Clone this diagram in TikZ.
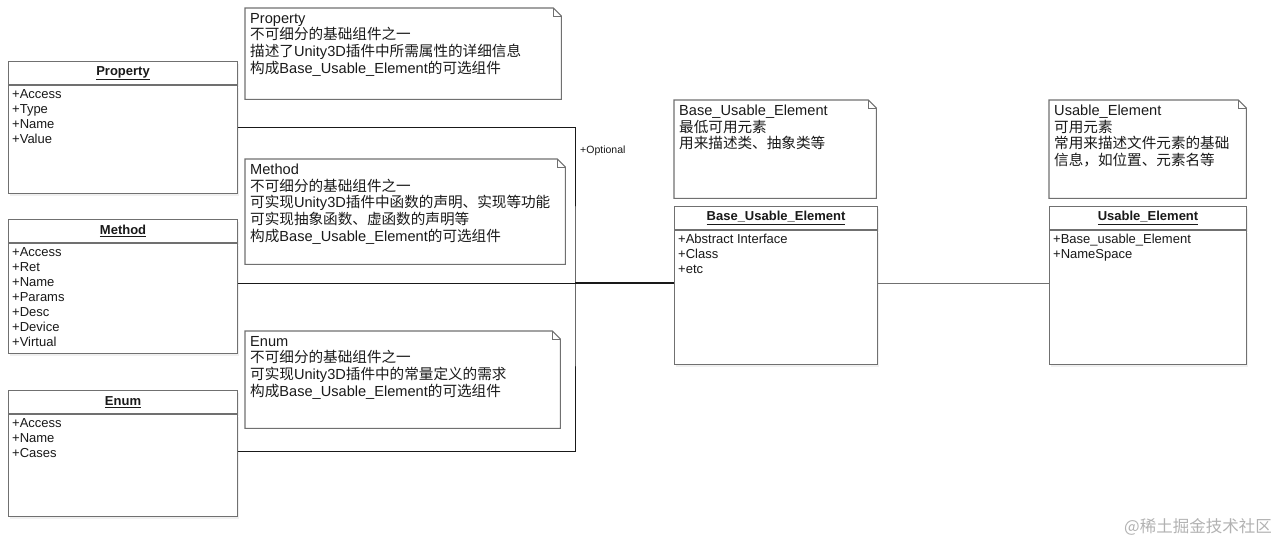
\documentclass[tikz,border=0pt]{standalone}
\usepackage{fontspec}
\setmainfont{Liberation Sans}
\newfontfamily\cjk{Noto Sans CJK SC}[Scale=1.0]
\usetikzlibrary{positioning,shadows,calc}
\definecolor{frame}{RGB}{112,112,112}
\definecolor{ink}{RGB}{25,25,25}
\definecolor{mark}{RGB}{178,178,178}
\newcommand{\zh}[1]{{\cjk #1}}

\tikzset{
  clshead/.style={draw=frame,line width=1.1pt,fill=white,minimum height=23pt,inner sep=0pt,
    anchor=north west,font=\fontsize{13}{15}\selectfont\bfseries,text=ink,
    drop shadow={shadow xshift=1.5pt,shadow yshift=-2.5pt,opacity=0.12}},
  clsbody/.style={draw=frame,line width=1.1pt,fill=white,inner sep=0pt,anchor=north west,
    drop shadow={shadow xshift=1.5pt,shadow yshift=-2.5pt,opacity=0.12}},
  members/.style={inner sep=4pt,anchor=north west,align=left,font=\fontsize{13}{15}\selectfont,text=ink},
  notebox/.style={inner sep=0pt,anchor=north west},
  notebord/.style={draw=frame,line width=1.1pt},
  notetext/.style={inner sep=5pt,anchor=north west,align=left,font=\fontsize{14.6}{16.6}\selectfont,text=ink},
  conn/.style={draw=ink,line width=0.9pt}
}

\begin{document}
\begin{tikzpicture}[x=1pt,y=-1pt]
    \useasboundingbox (0,0) rectangle (1280,547);
    % class boxes: name/x/y/width/body height/title/members
    \foreach \n/\x/\y/\w/\h/\t/\m in {
      prop/8/61/229/108/Property/{+Access\\+Type\\+Name\\+Value},
      meth/8/219/229/110/Method/{+Access\\+Ret\\+Name\\+Params\\+Desc\\+Device\\+Virtual},
      enum/8/390/229/102/Enum/{+Access\\+Name\\+Cases},
      base/674/206/203/134/Base\_Usable\_Element/{+Abstract Interface\\+Class\\+etc},
      usable/1049/206/197/134/Usable\_Element/{+Base\_usable\_Element\\+NameSpace}}
    {
      \node[clshead,minimum width=\w pt] (\n) at (\x,\y) {\underline{\t}};
      \node[clsbody,minimum width=\w pt,minimum height=\h pt] (\n body) at (\n.south west) {};
      \node[members] (\n list) at (\n body.north west) {\m};
    }
    % notes with folded corner
    \foreach \n/\x/\y/\w/\h/\t in {
      propnote/245/8/316/91/{Property\\\zh{不可细分的基础组件之一}\\\zh{描述了}Unity3D\zh{插件中所需属性的详细信息}\\\zh{构成}Base\_Usable\_Element\zh{的可选组件}},
      methnote/245/159/320/105/{Method\\\zh{不可细分的基础组件之一}\\\zh{可实现}Unity3D\zh{插件中函数的声明、实现等功能}\\\zh{可实现抽象函数、虚函数的声明等}\\\zh{构成}Base\_Usable\_Element\zh{的可选组件}},
      enumnote/245/331/315/97/{Enum\\\zh{不可细分的基础组件之一}\\\zh{可实现}Unity3D\zh{插件中的常量定义的需求}\\\zh{构成}Base\_Usable\_Element\zh{的可选组件}},
      basenote/674/100/202/98/{Base\_Usable\_Element\\\zh{最低可用元素}\\\zh{用来描述类、抽象类等}},
      usablenote/1049/100/197/98/{Usable\_Element\\\zh{可用元素}\\\zh{常用来描述文件元素的基础}\\\zh{信息，如位置、元素名等}}}
    {
      \node[notebox,minimum width=\w pt,minimum height=\h pt] (\n) at (\x,\y) {};
      \draw[notebord] (\n.south west) -- (\n.north west) -- ([xshift=-8pt]\n.north east)
        -- ([yshift=-8pt]\n.north east) -- (\n.south east) -- cycle;
      \draw[notebord,line width=0.8pt] ([xshift=-8pt]\n.north east) |- ([yshift=-8pt]\n.north east);
      \node[notetext] (\n text) at (\n.north west) {\t};
    }
    % connectors
    \coordinate (join) at (575,283);
    \draw[conn] ([yshift=12pt]propbody.east) -| (join) |- ([yshift=14pt]enumbody.east);
    \draw[conn] (methbody.east |- join) -- (join);
    \draw[conn,line width=1.8pt] (join) -- (join -| basebody.west);
    \draw[conn,draw=frame] (basebody.east |- join) -- (usablebody.west |- join);
    \node[anchor=west,inner sep=0pt,font=\fontsize{10.5}{12}\selectfont,text=ink] (opt) at (580,151) {+Optional};
    \node[anchor=east,inner sep=0pt,font=\cjk\fontsize{16.5}{17}\selectfont,text=mark] (mark) at (1272,527) {@稀土掘金技术社区};
\end{tikzpicture}
\end{document}
